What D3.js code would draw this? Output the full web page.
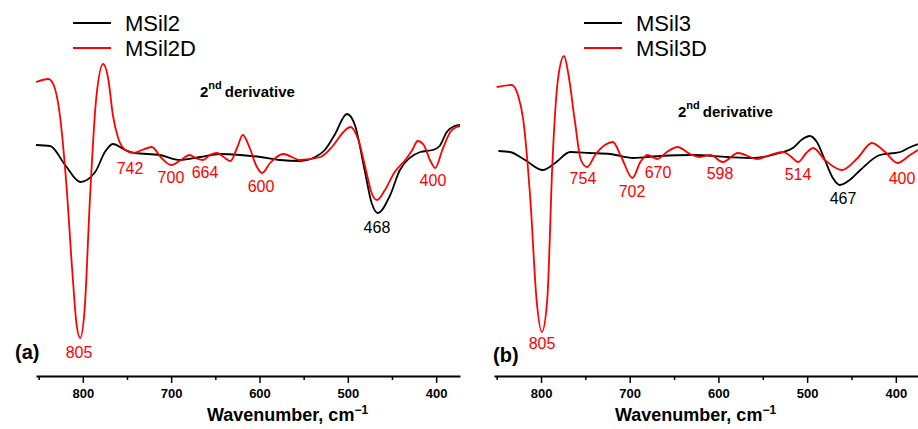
<!DOCTYPE html>
<html>
<head>
<meta charset="utf-8">
<script src="https://cdn.jsdelivr.net/npm/d3@7"></script>
<style>
  html, body { margin: 0; padding: 0; background: #fff; }
  svg { display: block; font-family: "Liberation Sans", Arial, sans-serif; }
</style>
</head>
<body>
<svg id="chart" width="918" height="429"></svg>
<script>
// ---------- DATA ----------
const majorTicks = [800, 700, 600, 500, 400];
const minorTicks = [850, 750, 650, 550, 450];

// Panel (a)
const msil2Wn  = [853,837,820,803,786,775,766,752,741,713,690,667,645,622,599,577,554,537,526,515,501,492,481,473,466,452,441,418,404,396,388,379,373];
const msil2Int = [0.05,0.04,-0.15,-0.32,-0.22,-0.02,0.06,0.00,-0.03,-0.05,-0.10,-0.07,-0.04,-0.05,-0.07,-0.10,-0.11,-0.07,0.00,0.15,0.36,0.25,-0.20,-0.53,-0.63,-0.45,-0.20,-0.02,0.00,0.04,0.18,0.24,0.25];

const msil2dWn  = [853,839,833,826,819,812,807,803,798,792,785,777,771,766,760,752,743,733,722,711,700,689,679,672,664,656,648,639,633,625,619,611,604,597,588,573,554,531,517,505,497,488,479,473,467,458,447,435,427,421,414,407,401,393,384,377,373];
const msil2dInt = [0.68,0.71,0.65,0.35,-0.30,-1.20,-1.75,-1.88,-1.60,-0.50,0.50,0.86,0.70,0.35,0.12,0.00,-0.03,0.00,0.03,-0.08,-0.15,-0.10,-0.05,-0.08,-0.10,-0.05,-0.03,-0.08,-0.11,0.03,0.15,0.02,-0.15,-0.23,-0.13,-0.04,-0.10,-0.07,0.04,0.18,0.23,0.10,-0.22,-0.43,-0.50,-0.40,-0.22,-0.10,0.00,0.09,0.05,-0.10,-0.18,0.00,0.18,0.23,0.24];

// Panel (b)
const msil3Wn  = [848,835,818,798,784,767,745,722,696,666,629,590,561,531,516,505,497,489,480,471,463,452,440,418,395,386,375];
const msil3Int = [-0.01,-0.02,-0.10,-0.20,-0.13,-0.02,-0.03,-0.04,-0.08,-0.06,-0.05,-0.07,-0.08,-0.03,0.02,0.11,0.14,0.08,-0.10,-0.28,-0.35,-0.30,-0.20,-0.05,-0.02,0.02,0.06];

const msil3dWn  = [850,833,826,820,812,805,799,793,787,781,774,769,762,755,748,739,728,719,709,697,688,680,669,658,646,632,621,609,595,578,556,542,527,519,510,501,493,480,461,443,427,412,398,384,375];
const msil3dInt = [0.63,0.65,0.55,0.30,-0.50,-1.50,-1.82,-1.50,-0.10,0.70,0.94,0.75,0.30,-0.10,-0.17,-0.05,0.05,0.08,-0.08,-0.28,-0.12,-0.05,-0.09,-0.02,0.03,-0.04,-0.07,-0.05,-0.12,-0.03,-0.09,-0.05,-0.02,-0.06,-0.12,-0.03,0.02,-0.10,-0.20,-0.08,0.07,-0.02,-0.13,-0.05,0.00];

// Peak annotations: text, x position (wavenumber), y position (intensity units), colour key
const annA_text = ["742","700","664","600","400","468","805"];
const annA_at   = [746.6,700.2,661.7,598.3,403.6,467,804.3];
const annA_lv   = [-0.235,-0.325,-0.275,-0.415,-0.355,-0.825,-2.075];
const annA_col  = ["r","r","r","r","r","k","r"];

const annB_text = ["754","702","670","598","514","467","400","805"];
const annB_at   = [752.7,697.4,668.1,598.2,510.3,459.5,393,798.9];
const annB_lv   = [-0.335,-0.465,-0.275,-0.285,-0.295,-0.535,-0.335,-1.985];
const annB_col  = ["r","r","r","r","r","k","r","r"];

const seriesNamesA = ["MSil2", "MSil2D"];
const seriesNamesB = ["MSil3", "MSil3D"];
const colors = { k: "#000000", r: "#ff0000" };

// ---------- DRAW ----------
const svg = d3.select("#chart");
const yScale = d3.scaleLinear().domain([-2, 1]).range([350, 50]);
const axisY = 376;

function zip(w, v) { return w.map((d, i) => ({ wn: d, v: v[i] })); }

function drawPanel(opt) {
  const x = d3.scaleLinear().domain(opt.domain).range(opt.range);
  const g = svg.append("g");

  const line = d3.line()
    .x(d => x(d.wn)).y(d => yScale(d.v))
    .curve(d3.curveMonotoneX);

  g.append("path").datum(zip(opt.blackWn, opt.blackInt))
    .attr("fill", "none").attr("stroke", colors.k).attr("stroke-width", 1.8)
    .attr("d", d => line(d.slice().reverse()));
  g.append("path").datum(zip(opt.redWn, opt.redInt))
    .attr("fill", "none").attr("stroke", colors.r).attr("stroke-width", 1.8)
    .attr("d", d => line(d.slice().reverse()));

  opt.annText.forEach((t, i) => {
    g.append("text")
      .attr("x", x(opt.annAt[i])).attr("y", yScale(opt.annLv[i]))
      .attr("text-anchor", "middle")
      .attr("font-size", 16)
      .attr("fill", colors[opt.annCol[i]])
      .text(t);
  });

  const ax = g.append("g").attr("transform", `translate(0,${axisY})`)
    .call(d3.axisBottom(x).tickValues(majorTicks).tickSize(7).tickPadding(6).tickSizeOuter(0).tickFormat(d3.format("d")));
  ax.select(".domain").attr("stroke-width", 2);
  ax.selectAll(".tick line").attr("stroke-width", 1.5);
  ax.selectAll(".tick text").attr("font-size", 13).attr("font-weight", "bold")
    .attr("font-family", "'Liberation Sans', Arial, sans-serif");
  const axm = g.append("g").attr("transform", `translate(0,${axisY})`)
    .call(d3.axisBottom(x).tickValues(minorTicks).tickSize(4).tickSizeOuter(0).tickFormat(""));
  axm.select(".domain").remove();
  axm.selectAll(".tick line").attr("stroke-width", 1.5);

  const tt = g.append("text").attr("x", opt.titleX).attr("y", 421)
    .attr("font-size", 18).attr("font-weight", "bold");
  tt.append("tspan").text("Wavenumber, cm");
  tt.append("tspan").attr("dy", -7).attr("font-size", 12).text("\u22121");

  opt.names.forEach((n, i) => {
    const ly = 23 + i * 25;
    g.append("line").attr("x1", opt.legX).attr("x2", opt.legX + 38)
      .attr("y1", ly).attr("y2", ly)
      .attr("stroke", i === 0 ? colors.k : colors.r).attr("stroke-width", 1.8);
    g.append("text").attr("x", opt.legX + 52).attr("y", ly + 7.5)
      .attr("font-size", 22).attr("fill", "#000").text(n);
  });

  const dt = g.append("text").attr("x", opt.derX).attr("y", opt.derY)
    .attr("font-size", 15).attr("font-weight", "bold");
  dt.append("tspan").text("2");
  dt.append("tspan").attr("dy", -8).attr("font-size", 11).text("nd");
  dt.append("tspan").attr("dy", 8).attr("dx", 3).text("derivative");

  g.append("text").attr("x", opt.panelX).attr("y", opt.panelY)
    .attr("font-size", 20).attr("font-weight", "bold").text(opt.panel);
}

drawPanel({
  domain: [853, 373], range: [36, 460],
  blackWn: msil2Wn, blackInt: msil2Int, redWn: msil2dWn, redInt: msil2dInt,
  annText: annA_text, annAt: annA_at, annLv: annA_lv, annCol: annA_col,
  names: seriesNamesA, legX: 73, derX: 200, derY: 97,
  titleX: 207, panel: "(a)", panelX: 15, panelY: 359
});

drawPanel({
  domain: [853, 375], range: [494, 918],
  blackWn: msil3Wn, blackInt: msil3Int, redWn: msil3dWn, redInt: msil3dInt,
  annText: annB_text, annAt: annB_at, annLv: annB_lv, annCol: annB_col,
  names: seriesNamesB, legX: 584, derX: 678, derY: 117,
  titleX: 615, panel: "(b)", panelX: 493, panelY: 362
});
</script>
</body>
</html>
